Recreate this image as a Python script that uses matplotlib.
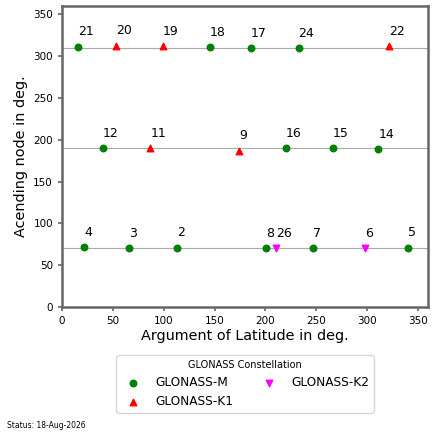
import matplotlib
matplotlib.use("Agg")
import matplotlib.pyplot as plt

# GLONASS-M
m_slot = [21, 18, 17, 24, 12, 16, 15, 14, 4, 3, 2, 8, 7, 5]
m_lat = [15.4, 145.3, 185.7, 232.7, 40.4, 220.2, 266.2, 311.2, 22.0, 65.7, 113.4, 200.8, 246.5, 339.8]
m_node = [311.3, 311.0, 310.0, 309.5, 190.1, 190.0, 190.0, 189.0, 71.3, 70.0, 71.0, 70.0, 70.0, 71.0]

# GLONASS-K1
k1_slot = [20, 19, 22, 11, 9]
k1_lat = [52.9, 99.2, 321.5, 86.8, 174.2]
k1_node = [312.5, 312.0, 312.0, 190.0, 187.2]

# GLONASS-K2
k2_slot = [26, 6]
k2_lat = [210.4, 297.8]
k2_node = [70.0, 70.0]

planes = [310, 190, 70]

fig = plt.figure(figsize=(4.35, 4.37), dpi=100)
ax = fig.add_axes([0.1425, 0.2975, 0.8415, 0.6885])

for p in planes:
    ax.axhline(p, color="#aaaaaa", linewidth=0.8, zorder=1)

ax.scatter(m_lat, m_node, marker="o", color="green", s=22, label="GLONASS-M", zorder=3)
ax.scatter(k1_lat, k1_node, marker="^", color="red", s=22, label="GLONASS-K1", zorder=3)
ax.scatter(k2_lat, k2_node, marker="v", color="magenta", s=22, label="GLONASS-K2", zorder=3)

for slots, xs, ys in [(m_slot, m_lat, m_node), (k1_slot, k1_lat, k1_node), (k2_slot, k2_lat, k2_node)]:
    for n, x, y in zip(slots, xs, ys):
        ax.text(x, y + 10, str(n), ha="left", va="bottom", fontsize=9)

ax.set_xlim(0, 360)
ax.set_ylim(0, 360)
ax.set_xlabel("Argument of Latitude in deg.", fontsize=10.4, labelpad=2)
ax.set_ylabel("Acending node in deg.", fontsize=10.4, labelpad=4)
ax.tick_params(labelsize=7.5, color="#666666", width=1.2, length=3)
for s in ax.spines.values():
    s.set_color("#666666")
    s.set_linewidth(1.8)

ax.legend(title="GLONASS Constellation", ncol=2, loc="upper center",
          bbox_to_anchor=(0.5, -0.14), fontsize=8.7, title_fontsize=7)

fig.text(0.016, 0.021, "Status: 18-Aug-2026", fontsize=5.5)

fig.savefig("out.png", dpi=100)
